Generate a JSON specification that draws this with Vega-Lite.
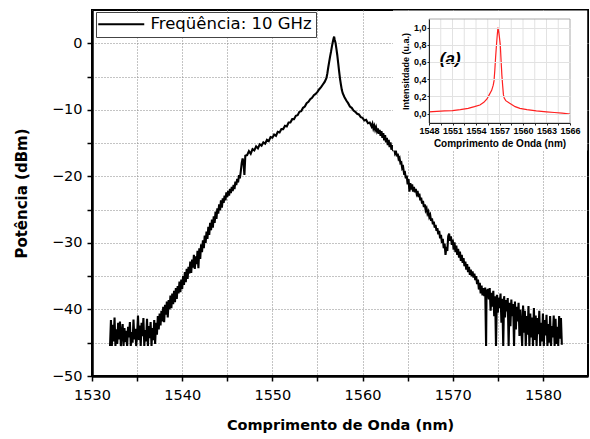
{
"$schema": "https://vega.github.io/schema/vega-lite/v6.json",
"autosize": {"type": "none"},
"width": 496, "height": 366,
"padding": {"left": 92, "top": 10, "right": 2, "bottom": 63},
"background": "white",
"config": {"view": {"stroke": "black", "strokeWidth": 2}, "font": "DejaVu Sans"},
"datasets": {
"main": [
{"w":1532.0,"p":-45.5},{"w":1532.1,"p":-41.6},{"w":1532.2,"p":-45.5},{"w":1532.3,"p":-42.3},{"w":1532.4,"p":-44.8},{"w":1532.5,"p":-41.2},{"w":1532.6,"p":-45.5},{"w":1532.7,"p":-43.0},{"w":1532.8,"p":-45.2},{"w":1532.9,"p":-42.0},
{"w":1533.0,"p":-44.5},{"w":1533.1,"p":-41.8},{"w":1533.2,"p":-45.5},{"w":1533.3,"p":-43.5},{"w":1533.4,"p":-42.2},{"w":1533.5,"p":-45.5},{"w":1533.6,"p":-42.8},{"w":1533.7,"p":-44.9},{"w":1533.8,"p":-43.2},{"w":1533.9,"p":-45.5},
{"w":1534.0,"p":-42.6},{"w":1534.1,"p":-44.2},{"w":1534.2,"p":-41.9},{"w":1534.3,"p":-45.5},{"w":1534.4,"p":-43.4},{"w":1534.5,"p":-45.0},{"w":1534.6,"p":-41.5},{"w":1534.7,"p":-44.5},{"w":1534.8,"p":-42.9},{"w":1534.9,"p":-45.5},
{"w":1535.0,"p":-43.8},{"w":1535.1,"p":-40.9},{"w":1535.2,"p":-44.6},{"w":1535.3,"p":-42.4},{"w":1535.4,"p":-45.5},{"w":1535.5,"p":-42.0},{"w":1535.6,"p":-44.0},{"w":1535.7,"p":-41.3},{"w":1535.8,"p":-45.5},{"w":1535.9,"p":-43.1},
{"w":1536.0,"p":-44.8},{"w":1536.1,"p":-41.4},{"w":1536.2,"p":-45.5},{"w":1536.3,"p":-42.5},{"w":1536.4,"p":-44.3},{"w":1536.5,"p":-41.9},{"w":1536.6,"p":-45.5},{"w":1536.7,"p":-42.8},{"w":1536.8,"p":-44.6},{"w":1536.9,"p":-41.6},
{"w":1537.0,"p":-45.2},{"w":1537.1,"p":-42.0},{"w":1537.2,"p":-43.8},{"w":1537.3,"p":-41.0},{"w":1537.4,"p":-43.0},{"w":1537.5,"p":-40.6},{"w":1537.6,"p":-42.4},{"w":1537.7,"p":-40.2},{"w":1537.8,"p":-41.8},{"w":1537.9,"p":-39.6},
{"w":1538.0,"p":-41.9},{"w":1538.1,"p":-39.3},{"w":1538.2,"p":-40.8},{"w":1538.3,"p":-38.8},{"w":1538.4,"p":-41.2},{"w":1538.5,"p":-38.6},{"w":1538.6,"p":-40.0},{"w":1538.7,"p":-37.9},{"w":1538.8,"p":-39.8},{"w":1538.9,"p":-37.6},
{"w":1539.0,"p":-39.2},{"w":1539.1,"p":-37.2},{"w":1539.2,"p":-38.9},{"w":1539.3,"p":-36.8},{"w":1539.4,"p":-38.4},{"w":1539.5,"p":-36.5},{"w":1539.6,"p":-37.6},{"w":1539.7,"p":-35.8},{"w":1539.8,"p":-37.4},{"w":1539.9,"p":-35.5},
{"w":1540.0,"p":-36.9},{"w":1540.1,"p":-35.0},{"w":1540.2,"p":-36.3},{"w":1540.3,"p":-34.4},{"w":1540.4,"p":-35.9},{"w":1540.5,"p":-33.9},{"w":1540.6,"p":-35.4},{"w":1540.7,"p":-33.6},{"w":1540.8,"p":-34.6},{"w":1540.9,"p":-32.8},
{"w":1541.0,"p":-34.5},{"w":1541.1,"p":-32.5},{"w":1541.2,"p":-33.7},{"w":1541.3,"p":-31.8},{"w":1541.4,"p":-33.9},{"w":1541.5,"p":-32.0},{"w":1541.6,"p":-33.2},{"w":1541.7,"p":-31.2},{"w":1541.8,"p":-33.8},{"w":1541.9,"p":-30.8},
{"w":1542.0,"p":-32.4},{"w":1542.1,"p":-30.2},{"w":1542.2,"p":-31.4},{"w":1542.3,"p":-29.6},{"w":1542.4,"p":-30.8},{"w":1542.5,"p":-28.9},{"w":1542.6,"p":-30.0},{"w":1542.7,"p":-28.3},{"w":1542.8,"p":-29.4},{"w":1542.9,"p":-27.6},
{"w":1543.0,"p":-28.8},{"w":1543.1,"p":-27.0},{"w":1543.2,"p":-28.1},{"w":1543.3,"p":-26.5},{"w":1543.4,"p":-27.7},{"w":1543.5,"p":-26.0},{"w":1543.6,"p":-27.0},{"w":1543.7,"p":-25.3},{"w":1543.8,"p":-26.4},{"w":1543.9,"p":-24.8},
{"w":1544.0,"p":-25.6},{"w":1544.1,"p":-24.2},{"w":1544.2,"p":-25.1},{"w":1544.3,"p":-23.6},{"w":1544.4,"p":-24.7},{"w":1544.5,"p":-23.3},{"w":1544.6,"p":-24.0},{"w":1544.7,"p":-22.9},{"w":1544.8,"p":-23.6},{"w":1544.9,"p":-22.4},
{"w":1545.0,"p":-23.1},{"w":1545.1,"p":-22.2},{"w":1545.2,"p":-22.9},{"w":1545.3,"p":-21.9},{"w":1545.4,"p":-22.5},{"w":1545.5,"p":-21.6},{"w":1545.6,"p":-22.2},{"w":1545.7,"p":-21.3},{"w":1545.8,"p":-21.9},{"w":1545.9,"p":-20.8},
{"w":1546.0,"p":-21.3},{"w":1546.1,"p":-20.4},{"w":1546.2,"p":-20.9},{"w":1546.3,"p":-19.8},{"w":1546.4,"p":-20.3},{"w":1546.5,"p":-19.2},{"w":1546.6,"p":-18.0},{"w":1546.7,"p":-17.3},{"w":1546.8,"p":-17.9},{"w":1546.9,"p":-19.8},
{"w":1547.0,"p":-16.9},{"w":1547.2,"p":-16.8},{"w":1547.4,"p":-16.2},{"w":1547.6,"p":-16.6},{"w":1547.8,"p":-15.9},{"w":1548.0,"p":-16.1},{"w":1548.2,"p":-15.5},{"w":1548.4,"p":-15.8},{"w":1548.6,"p":-15.2},{"w":1548.8,"p":-15.4},
{"w":1549.0,"p":-14.9},{"w":1549.2,"p":-15.1},{"w":1549.4,"p":-14.5},{"w":1549.6,"p":-14.7},{"w":1549.8,"p":-14.1},{"w":1550.0,"p":-14.2},{"w":1550.2,"p":-13.7},{"w":1550.4,"p":-13.9},{"w":1550.6,"p":-13.3},{"w":1550.8,"p":-13.4},
{"w":1551.0,"p":-12.9},{"w":1551.2,"p":-12.9},{"w":1551.4,"p":-12.4},{"w":1551.6,"p":-12.5},{"w":1551.8,"p":-11.9},{"w":1552.0,"p":-11.9},{"w":1552.2,"p":-11.4},{"w":1552.4,"p":-11.4},{"w":1552.6,"p":-10.9},{"w":1552.8,"p":-10.8},
{"w":1553.0,"p":-10.3},{"w":1553.2,"p":-10.2},{"w":1553.4,"p":-9.7},{"w":1553.6,"p":-9.5},{"w":1553.8,"p":-9.0},{"w":1554.0,"p":-8.8},{"w":1554.2,"p":-8.4},{"w":1554.4,"p":-8.2},{"w":1554.6,"p":-7.8},{"w":1554.8,"p":-7.6},
{"w":1555.0,"p":-7.3},{"w":1555.2,"p":-6.9},{"w":1555.4,"p":-6.6},{"w":1555.6,"p":-6.2},{"w":1555.8,"p":-5.8},{"w":1556.0,"p":-5.2},{"w":1556.1,"p":-4.5},{"w":1556.2,"p":-3.6},{"w":1556.3,"p":-2.8},{"w":1556.4,"p":-2.0},
{"w":1556.5,"p":-1.3},{"w":1556.6,"p":-0.5},{"w":1556.7,"p":0.2},{"w":1556.8,"p":0.8},{"w":1556.85,"p":1.0},{"w":1556.9,"p":0.6},{"w":1557.0,"p":0.1},{"w":1557.1,"p":-0.8},{"w":1557.2,"p":-1.8},{"w":1557.3,"p":-3.0},
{"w":1557.4,"p":-4.2},{"w":1557.5,"p":-5.3},{"w":1557.6,"p":-6.2},{"w":1557.7,"p":-7.0},{"w":1557.8,"p":-7.5},{"w":1558.0,"p":-8.1},{"w":1558.2,"p":-8.6},{"w":1558.4,"p":-9.0},{"w":1558.6,"p":-9.5},{"w":1558.8,"p":-9.7},
{"w":1559.0,"p":-10.1},{"w":1559.2,"p":-10.3},{"w":1559.4,"p":-10.6},{"w":1559.6,"p":-10.7},{"w":1559.8,"p":-11.1},{"w":1560.0,"p":-11.2},{"w":1560.2,"p":-11.6},{"w":1560.4,"p":-11.5},{"w":1560.6,"p":-12.0},{"w":1560.8,"p":-11.9},
{"w":1561.0,"p":-12.5},{"w":1561.1,"p":-12.1},{"w":1561.2,"p":-12.8},{"w":1561.3,"p":-12.4},{"w":1561.4,"p":-13.0},{"w":1561.5,"p":-12.6},{"w":1561.6,"p":-13.2},{"w":1561.7,"p":-12.8},{"w":1561.8,"p":-13.6},{"w":1561.9,"p":-13.0},
{"w":1562.0,"p":-13.9},{"w":1562.1,"p":-13.2},{"w":1562.2,"p":-14.2},{"w":1562.3,"p":-13.5},{"w":1562.4,"p":-14.6},{"w":1562.5,"p":-13.8},{"w":1562.6,"p":-14.9},{"w":1562.7,"p":-14.2},{"w":1562.8,"p":-15.3},{"w":1562.9,"p":-14.5},
{"w":1563.0,"p":-15.6},{"w":1563.1,"p":-14.9},{"w":1563.2,"p":-16.0},{"w":1563.3,"p":-15.3},{"w":1563.4,"p":-16.2},{"w":1563.5,"p":-15.7},{"w":1563.6,"p":-16.5},{"w":1563.7,"p":-16.2},{"w":1563.8,"p":-17.0},{"w":1563.9,"p":-16.6},
{"w":1564.0,"p":-17.4},{"w":1564.1,"p":-17.2},{"w":1564.2,"p":-18.0},{"w":1564.3,"p":-17.9},{"w":1564.4,"p":-18.8},{"w":1564.5,"p":-18.6},{"w":1564.6,"p":-19.5},{"w":1564.7,"p":-19.4},{"w":1564.8,"p":-20.3},{"w":1564.9,"p":-19.9},
{"w":1565.0,"p":-21.2},{"w":1565.1,"p":-20.4},{"w":1565.2,"p":-22.3},{"w":1565.3,"p":-21.0},{"w":1565.4,"p":-22.0},{"w":1565.5,"p":-21.2},{"w":1565.6,"p":-22.3},{"w":1565.7,"p":-21.6},{"w":1565.8,"p":-22.4},{"w":1565.9,"p":-21.9},
{"w":1566.0,"p":-22.6},{"w":1566.1,"p":-22.2},{"w":1566.2,"p":-23.1},{"w":1566.3,"p":-22.6},{"w":1566.4,"p":-23.6},{"w":1566.5,"p":-23.2},{"w":1566.6,"p":-24.1},{"w":1566.7,"p":-23.7},{"w":1566.8,"p":-24.6},{"w":1566.9,"p":-24.2},
{"w":1567.0,"p":-25.1},{"w":1567.1,"p":-24.8},{"w":1567.2,"p":-25.6},{"w":1567.3,"p":-25.3},{"w":1567.4,"p":-26.1},{"w":1567.5,"p":-25.8},{"w":1567.6,"p":-26.7},{"w":1567.7,"p":-26.3},{"w":1567.8,"p":-27.2},{"w":1567.9,"p":-26.8},
{"w":1568.0,"p":-27.7},{"w":1568.1,"p":-27.3},{"w":1568.2,"p":-28.2},{"w":1568.3,"p":-27.8},{"w":1568.4,"p":-28.7},{"w":1568.5,"p":-28.2},{"w":1568.6,"p":-29.3},{"w":1568.7,"p":-28.8},{"w":1568.8,"p":-30.0},{"w":1568.9,"p":-29.4},
{"w":1569.0,"p":-30.8},{"w":1569.1,"p":-30.1},{"w":1569.2,"p":-31.8},{"w":1569.3,"p":-30.6},{"w":1569.4,"p":-31.2},{"w":1569.5,"p":-29.0},{"w":1569.6,"p":-28.6},{"w":1569.7,"p":-29.7},{"w":1569.8,"p":-29.0},{"w":1569.9,"p":-30.3},
{"w":1570.0,"p":-29.5},{"w":1570.1,"p":-31.0},{"w":1570.2,"p":-29.9},{"w":1570.3,"p":-31.4},{"w":1570.4,"p":-30.4},{"w":1570.5,"p":-31.8},{"w":1570.6,"p":-30.9},{"w":1570.7,"p":-32.2},{"w":1570.8,"p":-31.3},{"w":1570.9,"p":-32.7},
{"w":1571.0,"p":-31.8},{"w":1571.1,"p":-33.0},{"w":1571.2,"p":-32.3},{"w":1571.3,"p":-33.5},{"w":1571.4,"p":-32.8},{"w":1571.5,"p":-34.0},{"w":1571.6,"p":-33.2},{"w":1571.7,"p":-34.4},{"w":1571.8,"p":-33.6},{"w":1571.9,"p":-34.8},
{"w":1572.0,"p":-34.0},{"w":1572.1,"p":-35.0},{"w":1572.2,"p":-34.3},{"w":1572.3,"p":-35.2},{"w":1572.4,"p":-34.6},{"w":1572.5,"p":-35.6},{"w":1572.6,"p":-35.0},{"w":1572.7,"p":-36.2},{"w":1572.8,"p":-35.5},{"w":1572.9,"p":-37.0},
{"w":1573.0,"p":-36.0},{"w":1573.1,"p":-37.6},{"w":1573.2,"p":-36.4},{"w":1573.3,"p":-37.9},{"w":1573.4,"p":-36.8},{"w":1573.5,"p":-38.0},{"w":1573.6,"p":-36.7},{"w":1573.7,"p":-45.5},{"w":1573.75,"p":-37.0},{"w":1573.8,"p":-38.2},
{"w":1573.9,"p":-36.9},{"w":1574.0,"p":-38.5},{"w":1574.1,"p":-36.8},{"w":1574.2,"p":-40.2},{"w":1574.3,"p":-37.5},{"w":1574.4,"p":-39.6},{"w":1574.5,"p":-37.2},{"w":1574.6,"p":-41.0},{"w":1574.7,"p":-38.0},{"w":1574.8,"p":-45.5},
{"w":1574.9,"p":-37.8},{"w":1575.0,"p":-40.5},{"w":1575.1,"p":-38.2},{"w":1575.2,"p":-39.8},{"w":1575.3,"p":-37.6},{"w":1575.4,"p":-42.0},{"w":1575.5,"p":-38.4},{"w":1575.6,"p":-45.5},{"w":1575.7,"p":-38.0},{"w":1575.8,"p":-41.2},
{"w":1575.9,"p":-38.6},{"w":1576.0,"p":-40.3},{"w":1576.1,"p":-38.3},{"w":1576.2,"p":-45.5},{"w":1576.3,"p":-39.0},{"w":1576.4,"p":-42.5},{"w":1576.5,"p":-38.5},{"w":1576.6,"p":-41.0},{"w":1576.7,"p":-39.2},{"w":1576.8,"p":-45.5},
{"w":1576.9,"p":-38.8},{"w":1577.0,"p":-43.0},{"w":1577.1,"p":-39.6},{"w":1577.2,"p":-41.8},{"w":1577.3,"p":-39.0},{"w":1577.4,"p":-44.0},{"w":1577.5,"p":-40.0},{"w":1577.6,"p":-42.6},{"w":1577.7,"p":-45.5},{"w":1577.8,"p":-39.4},
{"w":1577.9,"p":-43.5},{"w":1578.0,"p":-40.2},{"w":1578.1,"p":-45.5},{"w":1578.2,"p":-41.0},{"w":1578.3,"p":-43.8},{"w":1578.4,"p":-39.5},{"w":1578.5,"p":-45.5},{"w":1578.6,"p":-40.6},{"w":1578.7,"p":-44.2},{"w":1578.8,"p":-41.2},
{"w":1578.9,"p":-45.5},{"w":1579.0,"p":-39.8},{"w":1579.1,"p":-44.6},{"w":1579.2,"p":-40.9},{"w":1579.3,"p":-45.5},{"w":1579.4,"p":-41.3},{"w":1579.5,"p":-43.7},{"w":1579.6,"p":-40.2},{"w":1579.7,"p":-45.5},{"w":1579.8,"p":-42.0},
{"w":1579.9,"p":-44.8},{"w":1580.0,"p":-40.6},{"w":1580.1,"p":-45.5},{"w":1580.2,"p":-41.6},{"w":1580.3,"p":-43.9},{"w":1580.4,"p":-40.8},{"w":1580.5,"p":-45.5},{"w":1580.6,"p":-42.2},{"w":1580.7,"p":-45.0},{"w":1580.8,"p":-41.0},
{"w":1580.9,"p":-45.5},{"w":1581.0,"p":-42.5},{"w":1581.1,"p":-44.2},{"w":1581.2,"p":-40.9},{"w":1581.3,"p":-45.5},{"w":1581.4,"p":-41.4},{"w":1581.5,"p":-45.2},{"w":1581.6,"p":-42.6},{"w":1581.7,"p":-45.5},{"w":1581.8,"p":-41.0},
{"w":1581.9,"p":-44.4},{"w":1582.0,"p":-41.3},{"w":1582.1,"p":-45.3}
],
"inset": [
{"wl":1548.0,"i":0.02},{"wl":1549.0,"i":0.025},{"wl":1550.0,"i":0.03},{"wl":1551.0,"i":0.035},{"wl":1552.0,"i":0.045},{"wl":1553.0,"i":0.06},{"wl":1553.8,"i":0.08},{"wl":1554.5,"i":0.10},{"wl":1555.0,"i":0.13},{"wl":1555.4,"i":0.17},
{"wl":1555.7,"i":0.22},{"wl":1556.0,"i":0.27},{"wl":1556.2,"i":0.33},{"wl":1556.3,"i":0.38},{"wl":1556.4,"i":0.5},{"wl":1556.5,"i":0.65},{"wl":1556.6,"i":0.78},{"wl":1556.7,"i":0.9},{"wl":1556.8,"i":1.0},{"wl":1556.9,"i":0.95},
{"wl":1557.0,"i":0.88},{"wl":1557.1,"i":0.8},{"wl":1557.2,"i":0.62},{"wl":1557.3,"i":0.45},{"wl":1557.4,"i":0.33},{"wl":1557.5,"i":0.22},{"wl":1557.6,"i":0.18},{"wl":1557.8,"i":0.15},{"wl":1558.3,"i":0.12},{"wl":1559.0,"i":0.08},
{"wl":1559.6,"i":0.06},{"wl":1560.5,"i":0.045},{"wl":1561.7,"i":0.03},{"wl":1563.0,"i":0.02},{"wl":1564.0,"i":0.012},{"wl":1565.0,"i":0.005},{"wl":1566.0,"i":-0.005}
],
"insetgrid": [
{"g":1549.5},{"g":1551},{"g":1552.5},{"g":1554},{"g":1555.5},{"g":1557},{"g":1558.5},{"g":1560},{"g":1561.5},{"g":1563},{"g":1564.5}
]
},
"layer": [
{
"data": {"name": "main"},
"mark": {"type": "line", "stroke": "black", "strokeWidth": 2.1, "clip": true},
"encoding": {
"x": {"field": "w", "type": "quantitative",
"scale": {"domain": [1530, 1585], "nice": false, "zero": false},
"axis": {"orient": "bottom", "title": "Comprimento de Onda (nm)", "values": [1530,1535,1540,1545,1550,1555,1560,1565,1570,1575,1580],
"format": "d", "labelExpr": "datum.value % 10 == 0 ? datum.label : ''",
"grid": true, "gridColor": "#888", "gridDash": [1,2], "gridWidth": 1,
"domainColor": "black", "domainWidth": 2.5, "tickColor": "black", "tickWidth": 1.5, "tickSize": 5,
"labelFont": "DejaVu Sans", "labelFontSize": 14.5, "labelColor": "black", "labelPadding": 7, "labelFlush": false, "labelOverlap": false,
"titleFont": "DejaVu Sans", "titleFontSize": 14.5, "titleFontWeight": "bold", "titleColor": "black", "titlePadding": 17}},
"y": {"field": "p", "type": "quantitative",
"scale": {"domain": [-50, 5], "nice": false, "zero": false},
"axis": {"orient": "left", "title": "Potência (dBm)", "values": [-50,-45,-40,-35,-30,-25,-20,-15,-10,-5,0],
"format": "d", "labelExpr": "datum.value % 10 == 0 ? datum.label : ''",
"grid": true, "gridColor": "#888", "gridDash": [1,2], "gridWidth": 1,
"domainColor": "black", "domainWidth": 2.5, "tickColor": "black", "tickWidth": 1.5, "tickSize": 5,
"labelFont": "DejaVu Sans", "labelFontSize": 14.5, "labelColor": "black", "labelPadding": 5, "labelFlush": false, "labelOverlap": false,
"titleFont": "DejaVu Sans", "titleFontSize": 15, "titleFontWeight": "bold", "titleColor": "black", "titlePadding": 22}},
"color": {"datum": "Freqüência: 10 GHz", "type": "nominal", "scale": {"range": ["#000000"]},
"legend": {"title": null, "orient": "none", "legendX": 4, "legendY": 2,
"symbolType": "M-5,0H18", "symbolSize": 16, "symbolStrokeWidth": 2, "symbolStrokeColor": "black",
"labelFont": "DejaVu Sans", "labelFontSize": 16.5, "labelColor": "black", "labelOffset": 34, "labelLimit": 400,
"strokeColor": "#444", "fillColor": "white", "padding": 4}}
}
},
{
"layer": [
{
"data": {"values": [{}]},
"mark": {"type": "rect", "fill": "white", "stroke": null},
"encoding": {
"x": {"datum": 1543.4, "type": "quantitative", "scale": {"domain": [1548, 1566], "range": [337, 478], "nice": false, "zero": false}},
"x2": {"datum": 1568.2},
"y": {"datum": 1.2, "type": "quantitative", "scale": {"domain": [-0.11, 1.1], "range": [113, 9], "nice": false, "zero": false}},
"y2": {"datum": -0.43}
}
},
{
"data": {"name": "insetgrid"},
"mark": {"type": "rule", "stroke": "#e2e2e2", "strokeWidth": 1},
"encoding": {
"x": {"field": "g", "type": "quantitative", "scale": {"domain": [1548, 1566], "range": [337, 478], "nice": false, "zero": false}},
"y": {"datum": -0.11, "type": "quantitative", "scale": {"domain": [-0.11, 1.1], "range": [113, 9], "nice": false, "zero": false}},
"y2": {"datum": 1.1}
}
},
{
"data": {"values": [{}]},
"mark": {"type": "rect", "fill": null, "stroke": "#aaa", "strokeWidth": 1},
"encoding": {
"x": {"datum": 1548, "type": "quantitative", "scale": {"domain": [1548, 1566], "range": [337, 478], "nice": false, "zero": false}},
"x2": {"datum": 1566},
"y": {"datum": 1.1, "type": "quantitative", "scale": {"domain": [-0.11, 1.1], "range": [113, 9], "nice": false, "zero": false}},
"y2": {"datum": -0.11}
}
},
{
"data": {"name": "inset"},
"mark": {"type": "line", "stroke": "#ff2020", "strokeWidth": 1.2},
"encoding": {
"x": {"field": "wl", "type": "quantitative",
"scale": {"domain": [1548, 1566], "range": [337, 478], "nice": false, "zero": false},
"axis": {"orient": "bottom", "offset": -253, "zindex": 1, "title": "Comprimento de Onda (nm)",
"values": [1548,1549.5,1551,1552.5,1554,1555.5,1557,1558.5,1560,1561.5,1563,1564.5,1566],
"labelExpr": "datum.value % 3 == 0 ? format(datum.value, 'd') : ''",
"grid": false,
"domainColor": "#222", "domainWidth": 1, "tickColor": "#222", "tickSize": 2,
"labelFont": "Liberation Sans", "labelFontSize": 9, "labelFontWeight": "bold", "labelColor": "black", "labelPadding": 1, "labelFlush": false, "labelOverlap": false,
"titleFont": "Liberation Sans", "titleFontSize": 10, "titleFontWeight": "bold", "titleColor": "black", "titlePadding": 3}},
"y": {"field": "i", "type": "quantitative",
"scale": {"domain": [-0.11, 1.1], "range": [113, 9], "nice": false, "zero": false},
"axis": {"orient": "left", "offset": -337, "zindex": 1, "title": "Intensitdade (u.a.)",
"values": [0,0.1,0.2,0.3,0.4,0.5,0.6,0.7,0.8,0.9,1.0],
"labelExpr": "round(datum.value * 10) % 2 == 0 ? replace(format(datum.value, '.1f'), '.', ',') : ''",
"grid": true, "gridColor": "#e2e2e2", "gridWidth": 1,
"domainColor": "#222", "domainWidth": 1, "tickColor": "#222", "tickSize": 2,
"labelFont": "Liberation Sans", "labelFontSize": 9, "labelFontWeight": "bold", "labelColor": "black", "labelPadding": 1, "labelFlush": false, "labelOverlap": false,
"titleFont": "Liberation Sans", "titleFontSize": 9, "titleFontWeight": "bold", "titleColor": "black", "titlePadding": 3}}
}
},
{
"data": {"values": [{}]},
"mark": {"type": "text", "text": "(a)", "font": "Liberation Sans", "fontSize": 17, "fontWeight": "bold", "fontStyle": "italic", "color": "black"},
"encoding": {
"x": {"datum": 1550.7, "type": "quantitative", "scale": {"domain": [1548, 1566], "range": [337, 478], "nice": false, "zero": false}},
"y": {"datum": 0.64, "type": "quantitative", "scale": {"domain": [-0.11, 1.1], "range": [113, 9], "nice": false, "zero": false}}
}
}
]
}
],
"resolve": {"scale": {"x": "independent", "y": "independent", "color": "independent"}, "axis": {"x": "independent", "y": "independent"}}
}
